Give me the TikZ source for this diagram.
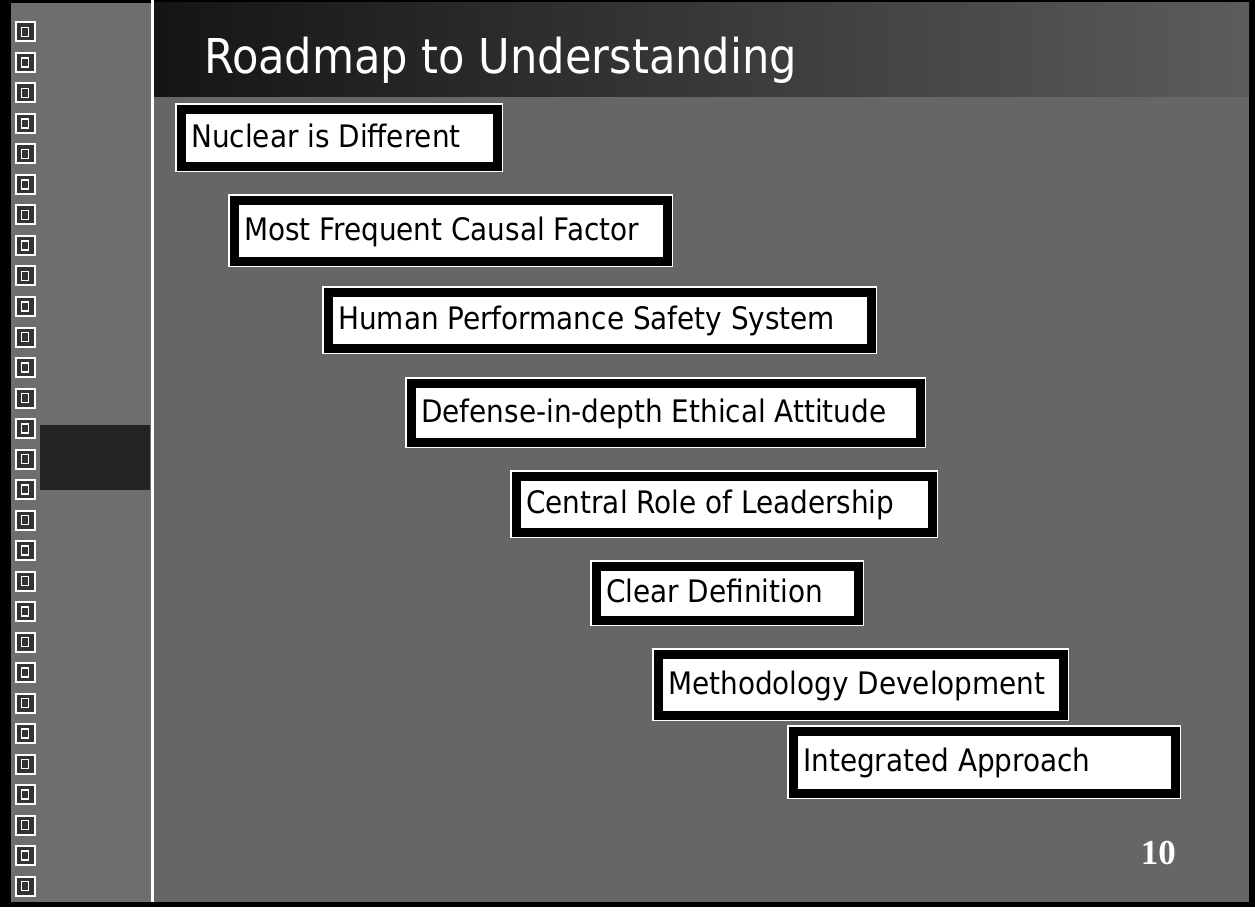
\documentclass[tikz,border=0pt]{standalone}
\usepackage{fontspec}
\newfontfamily\boxfont{DejaVu Sans Condensed}
\newfontfamily\numfont{Liberation Serif}
\tikzset{
  stepbox/.style={draw=white, line width=1.5pt, double=black, double distance=9pt,
    fill=white, anchor=north west, inner sep=0pt},
  boxlabel/.style={anchor=base west, inner sep=0pt, text=black,
    font=\boxfont\fontsize{31}{36}\selectfont},
  iconbox/.style={draw=white, line width=2pt, fill=black!80, minimum size=19pt, inner sep=0pt,
    path picture={\draw[white, line width=1.2pt]
      ([xshift=-3.5pt,yshift=-4.5pt]path picture bounding box.center) rectangle
      ([xshift=3.5pt,yshift=4.5pt]path picture bounding box.center);}},
}
\begin{document}
\begin{tikzpicture}[x=1pt,y=-1pt]
\useasboundingbox (0,0) rectangle (1255,917);

% page and slide background
\fill[white] (0,0) rectangle (1255,917);
\fill[black!60] (0,0) rectangle (1255,906);
\fill[black] (0,902) rectangle (1255,907);
\fill[black] (1249,0) rectangle (1255,907);
\fill[black] (0,0) rectangle (1255,3);

% left navigation strip
\fill[black] (0,0) rectangle (11,906);
\fill[black!57] (11,3) rectangle (151,902);
\fill[black!86] (40,425) rectangle (150,490);
\fill[white] (151,0) rectangle (154,902);

% title band
\shade[left color=black!92, right color=black!64] (154,3) rectangle (1249,97);

% slide thumbnails
\foreach \k in {0,...,28} {
  \node[iconbox] (ic\k) at (25,{32+30.5*\k}) {};
}

% title
\node[anchor=base west, inner sep=0pt, text=white,
      font=\boxfont\fontsize{48}{56}\selectfont] (title) at (204,74) {Roadmap to Understanding};

% staircase of topics
\foreach \xa/\ya/\xb/\yb/\n/\txt in {
  185/113/492/161/1/{Nuclear is Different},
  238/204/662/256/2/{Most Frequent Causal Factor},
  332/296/866/343/3/{Human Performance Safety System},
  415/387/915/437/4/{Defense-in-depth Ethical Attitude},
  520/480/927/527/5/{Central Role of Leadership},
  600/570/853/615/6/{Clear Definition},
  662/658/1058/710/7/{Methodology Development},
  797/735/1170/788/8/{Integrated Approach}} {
  \node[stepbox, minimum width={(\xb-\xa+9)*1pt}, minimum height={(\yb-\ya+9)*1pt}]
    (box\n) at ({\xa-4.5},{\ya-4.5}) {};
  \node[boxlabel] (topic\n) at ([xshift=10.5pt,yshift=-9.5pt]box\n.west) {\txt};
}

% slide number
\node[anchor=base east, inner sep=0pt, text=white,
      font=\numfont\bfseries\fontsize{35}{40}\selectfont] (num) at (1176,864) {10};
\end{tikzpicture}
\end{document}
